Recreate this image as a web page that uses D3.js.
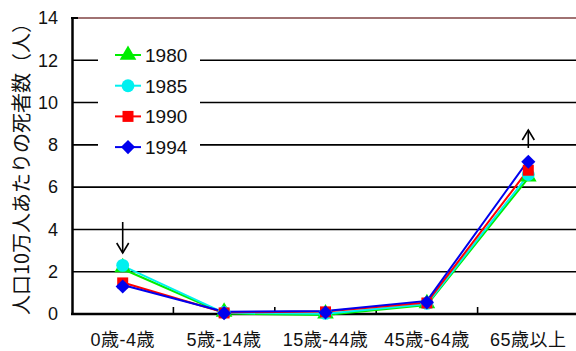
<!DOCTYPE html>
<html>
<head>
<meta charset="utf-8">
<script src="https://cdn.jsdelivr.net/npm/d3@7"></script>
<style>
  html, body { margin: 0; padding: 0; background: #fff; }
  svg { display: block; }
  text { font-family: "Liberation Sans", Arial, "Noto Sans CJK JP", sans-serif; fill: #111; }
</style>
</head>
<body>
<svg id="chart" width="576" height="351"></svg>
<script>
// Age groups along the x axis
const categories = ["0歳-4歳", "5歳-14歳", "15歳-44歳", "45歳-64歳", "65歳以上"];
// Deaths per 100,000 population, by survey year
const years = ["1980", "1985", "1990", "1994"];
const values1980 = [2.2, 0.1, 0.02, 0.5, 6.5];
const values1985 = [2.3, 0.08, 0.03, 0.5, 6.6];
const values1990 = [1.47, 0.05, 0.1, 0.52, 6.8];
const values1994 = [1.3, 0.04, 0.07, 0.55, 7.2];
const yTicks = [0, 2, 4, 6, 8, 10, 12, 14];
const yTitle = "人口10万人あたりの死者数（人）";

const seriesStyle = [
  { name: years[0], values: values1980, color: "#00ee00", symbol: d3.symbolTriangle, size: 120, rot: 0 },
  { name: years[1], values: values1985, color: "#00f0f0", symbol: d3.symbolCircle, size: 130, rot: 0 },
  { name: years[2], values: values1990, color: "#ff0000", symbol: d3.symbolSquare, size: 121, rot: 0 },
  { name: years[3], values: values1994, color: "#0000ee", symbol: d3.symbolSquare, size: 100, rot: 45 }
];

const svg = d3.select("#chart");
const plotLeft = 72, plotTop = 18, plotBottom = 314, plotW = 507;

const x = d3.scaleBand().domain(categories).range([plotLeft, plotLeft + plotW]).paddingInner(0).paddingOuter(0);
const y = d3.scaleLinear().domain([0, 14]).range([plotBottom, plotTop]);

// horizontal gridlines
svg.append("g").selectAll("line").data(yTicks.filter(t => t > 0 && t < 14)).join("line")
  .attr("x1", plotLeft).attr("x2", 576)
  .attr("y1", d => y(d)).attr("y2", d => y(d))
  .attr("stroke", "#000").attr("stroke-width", 1.6);

// top border
svg.append("line").attr("x1", plotLeft).attr("x2", 576).attr("y1", y(14)).attr("y2", y(14))
  .attr("stroke", "#a07272").attr("stroke-width", 2);
svg.append("line").attr("x1", plotLeft - 1).attr("x2", plotLeft + 6).attr("y1", y(14)).attr("y2", y(14))
  .attr("stroke", "#000").attr("stroke-width", 2);

// y axis
const yAxis = svg.append("g").attr("transform", `translate(${plotLeft},0)`)
  .call(d3.axisLeft(y).tickValues(yTicks).tickSize(0).tickPadding(14).tickFormat(d3.format("d")));
yAxis.select(".domain").attr("stroke", "#000").attr("stroke-width", 2.5);
yAxis.selectAll("text").style("font-size", "18px").attr("fill", "#111");

// x axis with boundary ticks pointing inward
const xAxis = svg.append("g").attr("transform", `translate(0,${plotBottom})`)
  .call(d3.axisBottom(x).tickSize(0).tickPadding(19));
xAxis.select(".domain").remove();
xAxis.selectAll("text").style("font-size", "18px").style("letter-spacing", "0.5px").attr("fill", "#111");
svg.append("line").attr("x1", plotLeft - 1).attr("x2", 576).attr("y1", plotBottom).attr("y2", plotBottom)
  .attr("stroke", "#000").attr("stroke-width", 2.5);
svg.append("g").selectAll("line").data(categories.slice(1)).join("line")
  .attr("x1", d => x(d)).attr("x2", d => x(d))
  .attr("y1", plotBottom).attr("y2", plotBottom - 7)
  .attr("stroke", "#000").attr("stroke-width", 1.6);

// y axis title
svg.append("text")
  .attr("transform", `translate(29,${(plotTop + plotBottom) / 2 - 2}) rotate(-90)`)
  .attr("text-anchor", "middle")
  .style("font-family", "'Noto Sans CJK JP', sans-serif")
  .style("font-size", "20px")
  .text(yTitle);

// legend box (white background hides gridlines)
const legend = svg.append("g");
legend.append("rect").attr("x", 98).attr("y", 36).attr("width", 102).attr("height", 126).attr("fill", "#fff");
seriesStyle.forEach((s, i) => {
  const ly = 55 + i * 30.7;
  legend.append("line").attr("x1", 115).attr("x2", 141).attr("y1", ly).attr("y2", ly)
    .attr("stroke", s.color).attr("stroke-width", 2);
  legend.append("path").attr("d", d3.symbol(s.symbol, s.size)())
    .attr("transform", `translate(128,${ly}) rotate(${s.rot})`).attr("fill", s.color);
  legend.append("text").attr("x", 145).attr("y", ly + 7).style("font-size", "19px").text(s.name);
});

// series lines and markers
const line = d3.line().x((d, i) => x(categories[i]) + x.bandwidth() / 2).y(d => y(d));
seriesStyle.forEach((s, k) => {
  const off = [1.5, 0.5, -0.5, -1.5][k];
  svg.append("path").datum(s.values)
    .attr("d", line).attr("transform", `translate(0,${off})`)
    .attr("fill", "none").attr("stroke", s.color).attr("stroke-width", 2);
});
seriesStyle.forEach(s => {
  svg.append("g").selectAll("path").data(s.values).join("path")
    .attr("d", d3.symbol(s.symbol, s.size)())
    .attr("transform", (d, i) => `translate(${x(categories[i]) + x.bandwidth() / 2},${y(d)}) rotate(${s.rot})`)
    .attr("fill", s.color);
});

// arrows marking the infant and elderly groups
function arrow(cx, y1, y2) {
  const dir = y2 > y1 ? 1 : -1;
  const g = svg.append("g").attr("stroke", "#000").attr("stroke-width", 1.6).attr("fill", "none");
  g.append("line").attr("x1", cx).attr("x2", cx).attr("y1", y1).attr("y2", y2);
  g.append("polyline").attr("points", `${cx - 6},${y2 - dir * 10} ${cx},${y2} ${cx + 6},${y2 - dir * 10}`);
}
const c0 = x(categories[0]) + x.bandwidth() / 2;
const c4 = x(categories[4]) + x.bandwidth() / 2;
arrow(c0, 222, 253);
arrow(c4, 148, 130);
</script>
</body>
</html>
